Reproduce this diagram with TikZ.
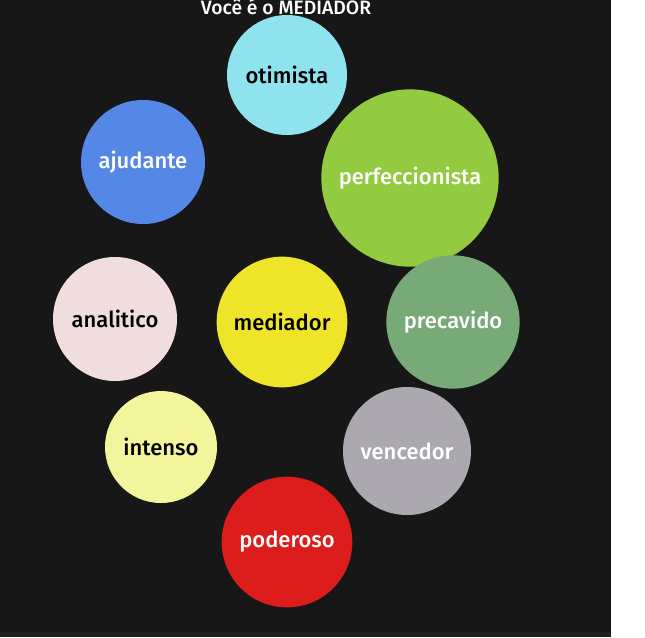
\documentclass[tikz,border=0pt]{standalone}
\usepackage{fontspec}
\setsansfont{Fira Sans}[UprightFont=* Medium]
\definecolor{bgdark}{HTML}{171717}
\definecolor{bgstrip}{HTML}{1E1E1E}
\definecolor{cOtim}{HTML}{8EE3EF}
\definecolor{cAjud}{HTML}{5588E6}
\definecolor{cPerf}{HTML}{93CB40}
\definecolor{cAnal}{HTML}{F0DEDE}
\definecolor{cMedi}{HTML}{EEE42A}
\definecolor{cPrec}{HTML}{78AA78}
\definecolor{cInte}{HTML}{F3F59D}
\definecolor{cVenc}{HTML}{ABA8B0}
\definecolor{cPode}{HTML}{DD1C1C}

\begin{document}
\begin{tikzpicture}[x=0.75pt,y=-0.75pt,font=\sffamily,
 bubble/.style={circle,fill=#1,inner sep=0pt,text=white,
   font=\sffamily\fontsize{16.5}{18}\selectfont},
 dark/.style={text=black},
 title/.style={text=white,font=\sffamily\fontsize{14.5}{16}\selectfont}]
\useasboundingbox (0,0) rectangle (645,637);
\fill[white] (0,0) rectangle (645,637);
\fill[bgdark] (0,0) rectangle (611,637);
\fill[bgstrip] (0,632) rectangle (611,637);
% circles, later ones on top
\node[bubble=cOtim,dark,minimum size=90pt] (otimista) at (287,75) {otimista};
\node[bubble=cAjud,minimum size=93pt] (ajudante) at (143,162) {ajudante};
\node[bubble=cPerf,minimum size=133pt] (perfeccionista) at (410,178) {perfeccionista};
\node[bubble=cAnal,dark,minimum size=93pt] (analitico) at (115,319) {analitico};
\node[bubble=cMedi,dark,minimum size=98pt] (mediador) at (282,322) {mediador};
\node[bubble=cPrec,minimum size=100pt] (precavido) at (453,322) {precavido};
\node[bubble=cInte,dark,minimum size=84pt] (intenso) at (161,447) {intenso};
\node[bubble=cVenc,minimum size=96pt] (vencedor) at (407,451) {vencedor};
\node[bubble=cPode,minimum size=98pt] (poderoso) at (287,542) {poderoso};
\node[title,anchor=base] (heading) at (286,14) {Você é o MEDIADOR};
\end{tikzpicture}
\end{document}
